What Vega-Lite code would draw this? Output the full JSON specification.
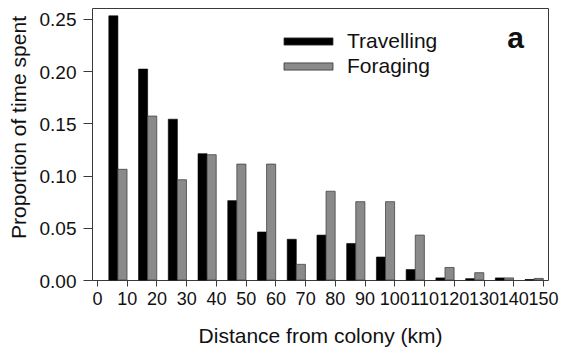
{
  "$schema": "https://vega.github.io/schema/vega-lite/v6.json",
  "width": 456,
  "height": 272,
  "autosize": {"type": "none"},
  "padding": {"left": 92, "top": 8, "right": 16, "bottom": 67},
  "background": "white",
  "title": {
    "text": "a",
    "orient": "top",
    "anchor": "end",
    "frame": "group",
    "offset": 0,
    "baseline": "alphabetic",
    "dx": -24,
    "dy": 70,
    "font": "Liberation Sans",
    "fontSize": 30,
    "fontWeight": "bold",
    "color": "#111111"
  },
  "config": {
    "font": "Liberation Sans",
    "view": {"stroke": "#3a3a3a", "strokeWidth": 1},
    "axis": {
      "labelFont": "Liberation Sans",
      "titleFont": "Liberation Sans",
      "labelColor": "#111111",
      "titleColor": "#111111",
      "tickColor": "#3a3a3a",
      "domain": false,
      "grid": false,
      "titleFontWeight": "normal"
    }
  },
  "data": {
    "values": [
      {"distance": 5, "activity": "Travelling", "proportion": 0.253},
      {"distance": 5, "activity": "Foraging", "proportion": 0.106},
      {"distance": 15, "activity": "Travelling", "proportion": 0.202},
      {"distance": 15, "activity": "Foraging", "proportion": 0.157},
      {"distance": 25, "activity": "Travelling", "proportion": 0.154},
      {"distance": 25, "activity": "Foraging", "proportion": 0.096},
      {"distance": 35, "activity": "Travelling", "proportion": 0.121},
      {"distance": 35, "activity": "Foraging", "proportion": 0.120},
      {"distance": 45, "activity": "Travelling", "proportion": 0.076},
      {"distance": 45, "activity": "Foraging", "proportion": 0.111},
      {"distance": 55, "activity": "Travelling", "proportion": 0.046},
      {"distance": 55, "activity": "Foraging", "proportion": 0.111},
      {"distance": 65, "activity": "Travelling", "proportion": 0.039},
      {"distance": 65, "activity": "Foraging", "proportion": 0.015},
      {"distance": 75, "activity": "Travelling", "proportion": 0.043},
      {"distance": 75, "activity": "Foraging", "proportion": 0.085},
      {"distance": 85, "activity": "Travelling", "proportion": 0.035},
      {"distance": 85, "activity": "Foraging", "proportion": 0.075},
      {"distance": 95, "activity": "Travelling", "proportion": 0.022},
      {"distance": 95, "activity": "Foraging", "proportion": 0.075},
      {"distance": 105, "activity": "Travelling", "proportion": 0.010},
      {"distance": 105, "activity": "Foraging", "proportion": 0.043},
      {"distance": 115, "activity": "Travelling", "proportion": 0.002},
      {"distance": 115, "activity": "Foraging", "proportion": 0.012},
      {"distance": 125, "activity": "Travelling", "proportion": 0.0013},
      {"distance": 125, "activity": "Foraging", "proportion": 0.007},
      {"distance": 135, "activity": "Travelling", "proportion": 0.002},
      {"distance": 135, "activity": "Foraging", "proportion": 0.002},
      {"distance": 145, "activity": "Travelling", "proportion": 0.0005},
      {"distance": 145, "activity": "Foraging", "proportion": 0.0015}
    ]
  },
  "encoding": {
    "x": {
      "field": "distance",
      "type": "quantitative",
      "scale": {"domain": [0, 150], "nice": false},
      "axis": {
        "values": [0, 10, 20, 30, 40, 50, 60, 70, 80, 90, 100, 110, 120, 130, 140, 150],
        "tickCount": 16,
        "tickSize": 6,
        "labelFontSize": 18,
        "labelPadding": 4,
        "labelFlush": false,
        "labelOverlap": false,
        "title": "Distance from colony (km)",
        "titleFontSize": 21,
        "titlePadding": 17
      }
    },
    "y": {
      "field": "proportion",
      "type": "quantitative",
      "scale": {"domain": [0, 0.2605], "nice": false},
      "axis": {
        "values": [0, 0.05, 0.1, 0.15, 0.2, 0.25],
        "format": ".2f",
        "tickSize": 9,
        "labelFontSize": 19,
        "labelPadding": 7,
        "labelOffset": 1,
        "title": "Proportion of time spent",
        "titleFontSize": 21,
        "titlePadding": 10,
        "titleY": 119
      }
    },
    "color": {
      "field": "activity",
      "type": "nominal",
      "scale": {"domain": ["Travelling", "Foraging"], "range": ["#000000", "#8a8a8a"]},
      "legend": {
        "orient": "none",
        "legendX": 206,
        "legendY": 23,
        "title": null,
        "symbolType": "M-5.444,-0.8H5.444V0.8H-5.444Z",
        "symbolSize": 81,
        "symbolStrokeColor": "#333333",
        "symbolStrokeWidth": 0.8,
        "symbolOpacity": 1,
        "labelFont": "Liberation Sans",
        "labelFontSize": 21,
        "labelColor": "#111111",
        "labelOffset": 28,
        "rowPadding": 3
      }
    }
  },
  "layer": [
    {
      "transform": [{"filter": "datum.activity === 'Travelling'"}],
      "mark": {"type": "bar", "width": 9.1, "xOffset": 1.5, "stroke": "#000000", "strokeWidth": 0.6}
    },
    {
      "transform": [{"filter": "datum.activity === 'Foraging'"}],
      "mark": {"type": "bar", "width": 9.1, "xOffset": 10.6, "stroke": "#444444", "strokeWidth": 0.8}
    }
  ]
}
